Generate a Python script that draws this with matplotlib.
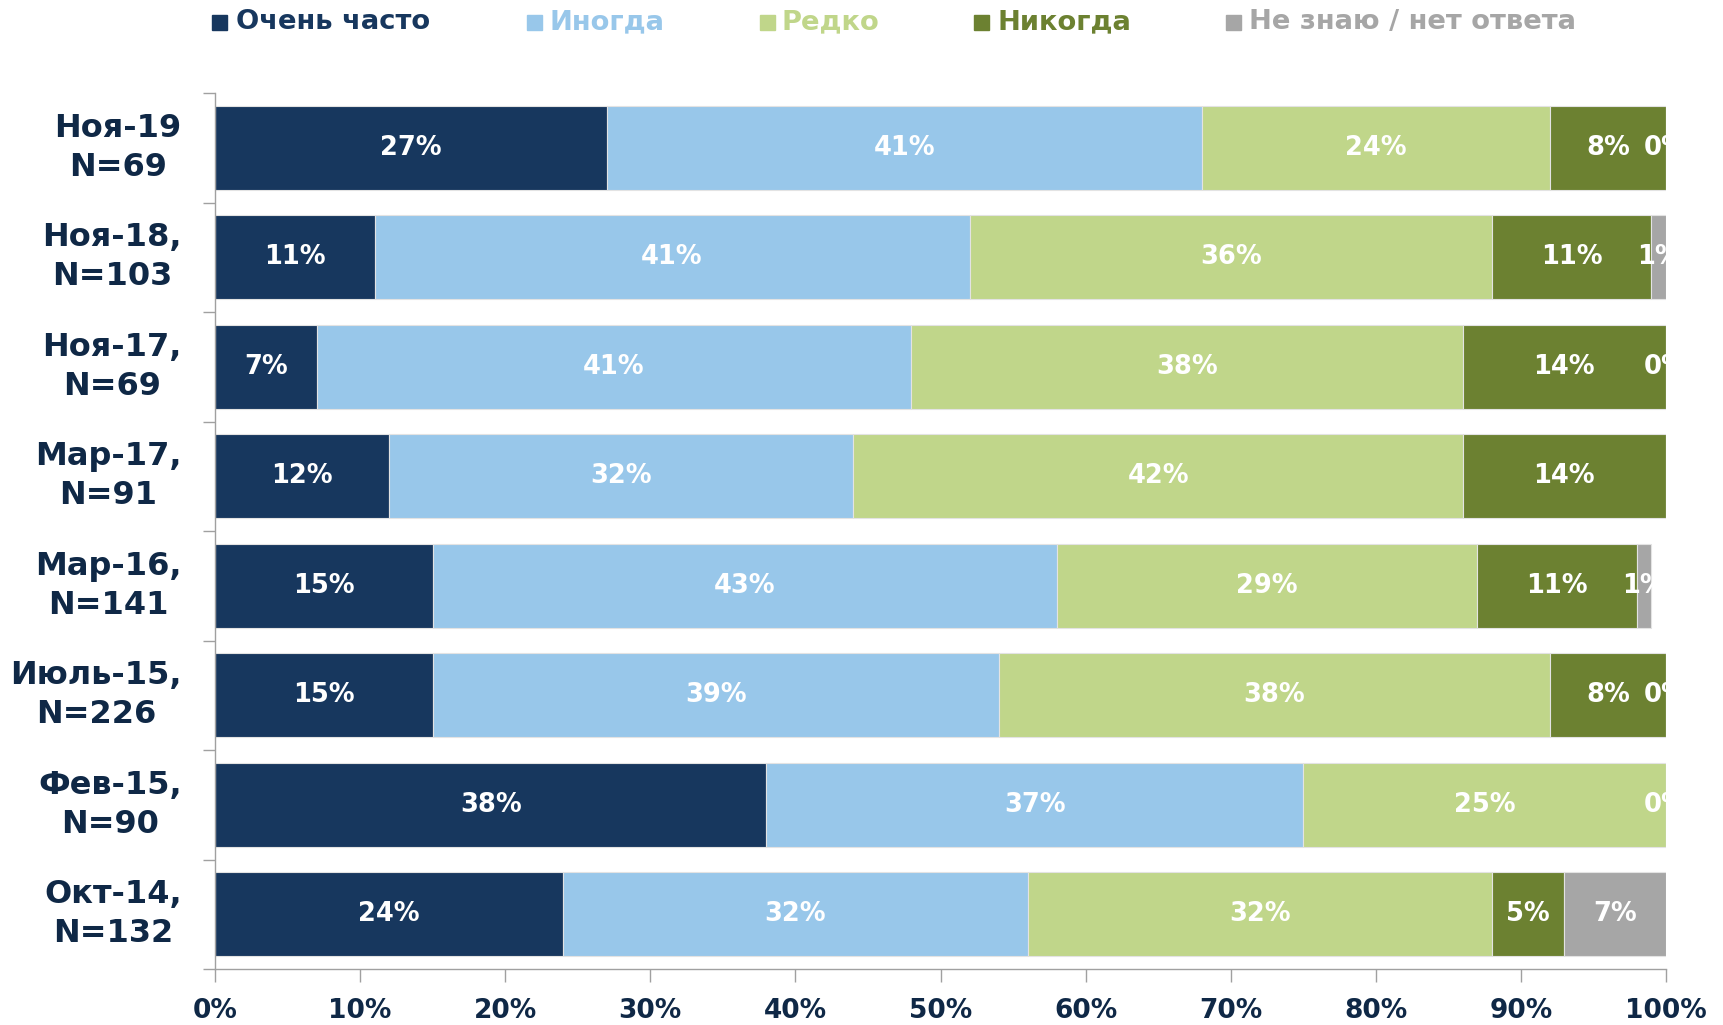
import matplotlib
matplotlib.use("Agg")
import matplotlib.pyplot as plt
from matplotlib.patches import Rectangle
import numpy as np

categories = ["Ноя-19\nN=69", "Ноя-18,\nN=103", "Ноя-17,\nN=69", "Мар-17,\nN=91",
              "Мар-16,\nN=141", "Июль-15,\nN=226", "Фев-15,\nN=90", "Окт-14,\nN=132"]
series_names = ["Очень часто", "Иногда", "Редко", "Никогда", "Не знаю / нет ответа"]
very_often = [27, 11, 7, 12, 15, 15, 38, 24]
sometimes = [41, 41, 41, 32, 43, 39, 37, 32]
rarely = [24, 36, 38, 42, 29, 38, 25, 32]
never = [8, 11, 14, 14, 11, 8, None, 5]
dont_know = [0, 1, 0, None, 1, 0, 0, 7]
xticks_vals = list(range(0, 101, 10))

colors = ["#17375E", "#98C7EA", "#C0D68A", "#6C8131", "#A6A6A6"]
text_colors = ["#17375E", "#98C7EA", "#C0D68A", "#6C8131", "#A6A6A6"]
dark = "#0F2846"

plt.rcParams['font.family'] = ['DejaVu Sans']
fig = plt.figure(figsize=(17.23, 10.25), dpi=100)
ax = fig.add_axes([215/1723, 56/1025, (1666-215)/1723, (969-93)/1025])

series = [very_often, sometimes, rarely, never, dont_know]
n = len(categories)
y = np.arange(n)
left = np.zeros(n)
totals = np.zeros(n)
for s in series:
    totals += np.array([v if v is not None else 0 for v in s], dtype=float)

clips = []
for i in range(n):
    r = Rectangle((0, i - 0.385), totals[i], 0.77, transform=ax.transData)
    clips.append(r)

for k, s in enumerate(series):
    vals = np.array([v if v is not None else 0 for v in s], dtype=float)
    ax.barh(y, vals, left=left, height=0.77, color=colors[k],
            edgecolor="#E3E3E3", linewidth=0.8, zorder=2)
    for i, v in enumerate(s):
        if v is None:
            continue
        t = ax.text(left[i] + vals[i] / 2, i, f"{v}%", ha="center", va="center",
                    color="white", fontsize=18.5, fontweight="bold", zorder=3)
        t.set_clip_path(clips[i])
    left += vals

ax.set_xlim(0, 100)
ax.set_ylim(n - 0.5, -0.5)
ax.set_yticks(y)
ax.set_yticklabels(categories, fontsize=23, fontweight="bold", color=dark,
                   multialignment="center", linespacing=1.35, va="center")
ax.set_yticks(np.arange(-0.5, n, 1), minor=True)
ax.tick_params(axis="y", which="major", length=0, pad=24)
ax.tick_params(axis="y", which="minor", length=9, color="#A0A0A0", width=1)
ax.set_xticks(xticks_vals)
ax.set_xticklabels([f"{v}%" for v in xticks_vals], fontsize=19, fontweight="bold", color=dark)
ax.tick_params(axis="x", length=9, color="#A0A0A0", width=1, pad=12)
for sp in ["top", "right"]:
    ax.spines[sp].set_visible(False)
for sp in ["left", "bottom"]:
    ax.spines[sp].set_color("#A0A0A0")
    ax.spines[sp].set_linewidth(1)

# legend (manual, top)
sq_x = [212, 527, 760, 974, 1226]
tx_x = [236, 549, 782, 998, 1249]
ly = 1 - 22 / 1025
for k, name in enumerate(series_names):
    fig.patches.append(Rectangle((sq_x[k] / 1723, ly - 8 / 1025), 15 / 1723, 15 / 1025,
                                 transform=fig.transFigure, color=colors[k]))
    fig.text(tx_x[k] / 1723, ly, name, ha="left", va="center", fontsize=19.7,
             fontweight="bold", color=text_colors[k])

fig.savefig("out.png", dpi=100)
